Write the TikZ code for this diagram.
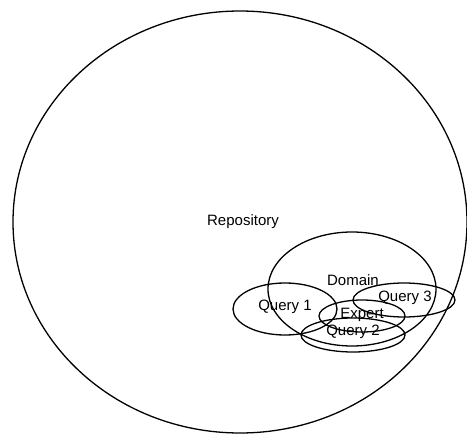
\documentclass[tikz,border=0pt]{standalone}
\usepackage{fontspec}
\setmainfont{Liberation Sans}
\begin{document}
\begin{tikzpicture}[x=1pt,y=-1pt,
  set/.style={draw=black,line width=1.3pt},
  lbl/.style={font=\fontsize{15}{17}\selectfont,inner sep=0pt}]
\useasboundingbox (0,0) rectangle (467,434);
\draw[set] (240,222) ellipse [x radius=227, y radius=211];
\draw[set] (352,289) ellipse [x radius=84, y radius=57];
\draw[set] (285,309) ellipse [x radius=52, y radius=26];
\draw[set] (404,300) ellipse [x radius=51, y radius=17];
\draw[set] (362,316) ellipse [x radius=43, y radius=16];
\draw[set] (353,335) ellipse [x radius=52, y radius=17];
\node[lbl] (repo) at (243,222) {Repository};
\node[lbl] (dom) at (353,280) {Domain};
\node[lbl] (q1) at (285,307) {Query 1};
\node[lbl] (q3) at (405,298) {Query 3};
\node[lbl] (exp) at (362,315) {Expert};
\node[lbl] (q2) at (353,332) {Query 2};
\end{tikzpicture}
\end{document}
